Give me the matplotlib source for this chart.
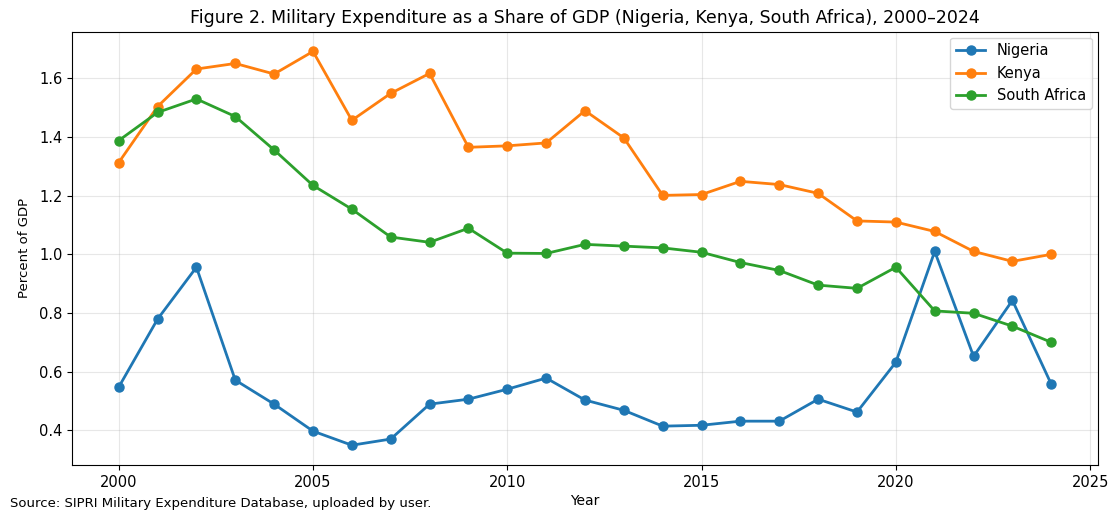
import matplotlib
matplotlib.use("Agg")
import matplotlib.pyplot as plt

years = list(range(2000, 2025))

nigeria = [0.547, 0.779, 0.956, 0.571, 0.489, 0.397, 0.349, 0.370, 0.489, 0.506,
           0.540, 0.578, 0.503, 0.468, 0.414, 0.417, 0.431, 0.431, 0.506, 0.462,
           0.632, 1.010, 0.652, 0.843, 0.557]
kenya = [1.313, 1.504, 1.632, 1.651, 1.615, 1.692, 1.457, 1.549, 1.617, 1.365,
         1.370, 1.380, 1.490, 1.397, 1.201, 1.204, 1.249, 1.238, 1.208, 1.114,
         1.110, 1.078, 1.010, 0.976, 1.000]
south_africa = [1.388, 1.484, 1.530, 1.470, 1.356, 1.235, 1.154, 1.059, 1.041, 1.089,
                1.004, 1.003, 1.034, 1.028, 1.022, 1.007, 0.972, 0.945, 0.895, 0.884,
                0.956, 0.807, 0.799, 0.755, 0.700]

fig = plt.figure(figsize=(11.09, 5.12), dpi=100)
ax = fig.add_axes([0.065, 0.092, 0.925, 0.846])

ax.plot(years, nigeria, marker='o', lw=2, ms=6.5, label='Nigeria')
ax.plot(years, kenya, marker='o', lw=2, ms=6.5, label='Kenya')
ax.plot(years, south_africa, marker='o', lw=2, ms=6.5, label='South Africa')

ax.set_title('Figure 2. Military Expenditure as a Share of GDP (Nigeria, Kenya, South Africa), 2000\u20132024',
             fontsize=12.5, pad=6)
ax.set_xlabel('Year', fontsize=10, labelpad=3)
ax.set_ylabel('Percent of GDP', fontsize=9.5, labelpad=6)
ax.tick_params(labelsize=10.5)
ax.grid(True, alpha=0.3)
ax.legend(loc='upper right', fontsize=10.5, borderaxespad=0.4)

fig.text(0.009, 0.01, 'Source: SIPRI Military Expenditure Database, uploaded by user.', fontsize=9.5)

fig.savefig('out.png', dpi=100)
